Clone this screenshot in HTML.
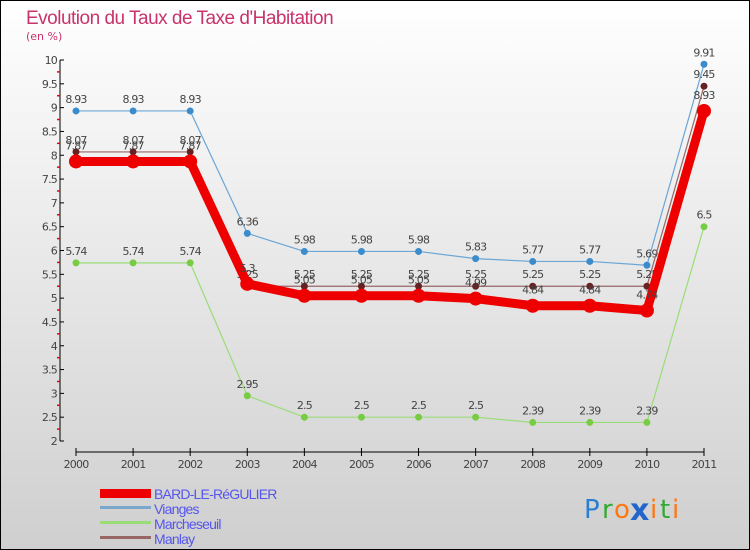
<!DOCTYPE html>
<html><head><meta charset="utf-8"><style>
html,body{margin:0;padding:0}
body{width:750px;height:550px;overflow:hidden}
svg{display:block;font-family:"DejaVu Sans","Liberation Sans",sans-serif}
</style></head><body>
<svg id="chart" width="750" height="550" viewBox="0 0 750 550">
<defs><linearGradient id="bg" x1="0" y1="0" x2="0" y2="1"><stop offset="0" stop-color="#ffffff"/><stop offset="1" stop-color="#cfcfcf"/></linearGradient></defs>
<rect x="0.5" y="0.5" width="749" height="549" fill="url(#bg)" stroke="#000"/>
<text x="26" y="24" font-size="19" fill="#c8336b" letter-spacing="-0.5" font-family="Liberation Sans, sans-serif">Evolution du Taux de Taxe d'Habitation</text>
<text x="26" y="40" font-size="11" fill="#c8336b">(en %)</text>
<g id="axes"></g>
<g id="series"></g>
<g id="legend">
<rect x="100" y="489" width="51" height="9" fill="#ee0000"/>
<text x="154" y="499" font-size="14" fill="#5555ee" letter-spacing="-0.8" font-family="Liberation Sans, sans-serif">BARD-LE-RéGULIER</text>
<rect x="100" y="506" width="51" height="3" fill="#7aa8cc"/>
<text x="154" y="514" font-size="14" fill="#5555ee" letter-spacing="-0.8" font-family="Liberation Sans, sans-serif">Vianges</text>
<rect x="100" y="521" width="51" height="3" fill="#99dd77"/>
<text x="154" y="529" font-size="14" fill="#5555ee" letter-spacing="-0.8" font-family="Liberation Sans, sans-serif">Marcheseuil</text>
<rect x="100" y="536" width="51" height="3" fill="#996666"/>
<text x="154" y="544" font-size="14" fill="#5555ee" letter-spacing="-0.8" font-family="Liberation Sans, sans-serif">Manlay</text>
</g>
<g font-size="26">
<text x="584" y="518" fill="#2a7fd0">P</text><text x="602" y="518" fill="#33aa33">r</text><text x="614" y="518" fill="#ff7711">o</text><text x="630" y="520" fill="#2266cc" font-size="30" font-weight="bold">x</text><text x="650" y="518" fill="#ff7711">i</text><text x="660" y="518" fill="#33aa33">t</text><text x="672" y="518" fill="#ff7711">i</text>
</g>
</svg>
<script>
const years=["2000","2001","2002","2003","2004","2005","2006","2007","2008","2009","2010","2011"];
const yTicks=[2,2.5,3,3.5,4,4.5,5,5.5,6,6.5,7,7.5,8,8.5,9,9.5,10];
const bard=[7.87,7.87,7.87,5.3,5.05,5.05,5.05,4.99,4.84,4.84,4.74,8.93];
const vianges=[8.93,8.93,8.93,6.36,5.98,5.98,5.98,5.83,5.77,5.77,5.69,9.91];
const marcheseuil=[5.74,5.74,5.74,2.95,2.5,2.5,2.5,2.5,2.39,2.39,2.39,6.5];
const manlay=[8.07,8.07,8.07,5.25,5.25,5.25,5.25,5.25,5.25,5.25,5.25,9.45];
const NS="http://www.w3.org/2000/svg";
const X0=76,XS=(704-76)/11,AX=60;
function x(i){return X0+i*XS;}
function y(v){return 441-(v-2)*(441-60)/8;}
function mk(tag,attrs,parent,txt){const e=document.createElementNS(NS,tag);for(const k in attrs)e.setAttribute(k,attrs[k]);if(txt!==undefined)e.textContent=txt;parent.appendChild(e);return e;}
const axes=document.getElementById('axes');
let a=mk('line',{x1:AX,y1:y(10),x2:AX,y2:y(2),stroke:'#000'},axes);


let b=mk('line',{x1:X0,y1:452,x2:x(11),y2:452,stroke:'#000'},axes);


yTicks.forEach(v=>{
  mk('line',{x1:AX,y1:y(v),x2:AX+4,y2:y(v),stroke:'#000'},axes);
  if(v<10){mk('line',{x1:AX-3,y1:y(v+0.25),x2:AX,y2:y(v+0.25),stroke:'#ee0000','stroke-width':1.5},axes);}
  const t=mk('text',{x:AX-3,y:y(v)+4,'font-size':11,fill:'#444','text-anchor':'end','letter-spacing':'-0.8'},axes,String(v));
  
  
});
years.forEach((yr,i)=>{
  mk('line',{x1:x(i),y1:448,x2:x(i),y2:456,stroke:'#000'},axes);
  const t=mk('text',{x:x(i),y:468,'font-size':11,fill:'#444','text-anchor':'middle','letter-spacing':'-0.8'},axes,yr);
  
  
});
const sg=document.getElementById('series');
function series(name,vals,color,w,r,dot,labelDy){
  const g=mk('g',{},sg);
  
  
  const p=mk('polyline',{points:vals.map((v,i)=>x(i)+','+y(v)).join(' '),fill:'none',stroke:color,'stroke-width':w,'stroke-linejoin':'round'},g);
  
  
  vals.forEach((v,i)=>{
    const c=mk('circle',{cx:x(i),cy:y(v),r:r,fill:dot},g);
    
    
    const t=mk('text',{x:x(i),y:y(v)+labelDy,'font-size':11,fill:'#444','text-anchor':'middle','letter-spacing':'-0.8'},g,String(v));
    
    
  });
}
series('marcheseuil',marcheseuil,'#99dd77',1.2,3.5,'#77cc44',-8);
series('vianges',vianges,'#6aa6d6',1.2,3.5,'#3a8ccc',-8);
series('manlay',manlay,'#996666',1.2,3.5,'#662222',-8);
series('bard',bard,'#ee0000',9,7,'#ee0000',-12);
</script>
</body></html>
